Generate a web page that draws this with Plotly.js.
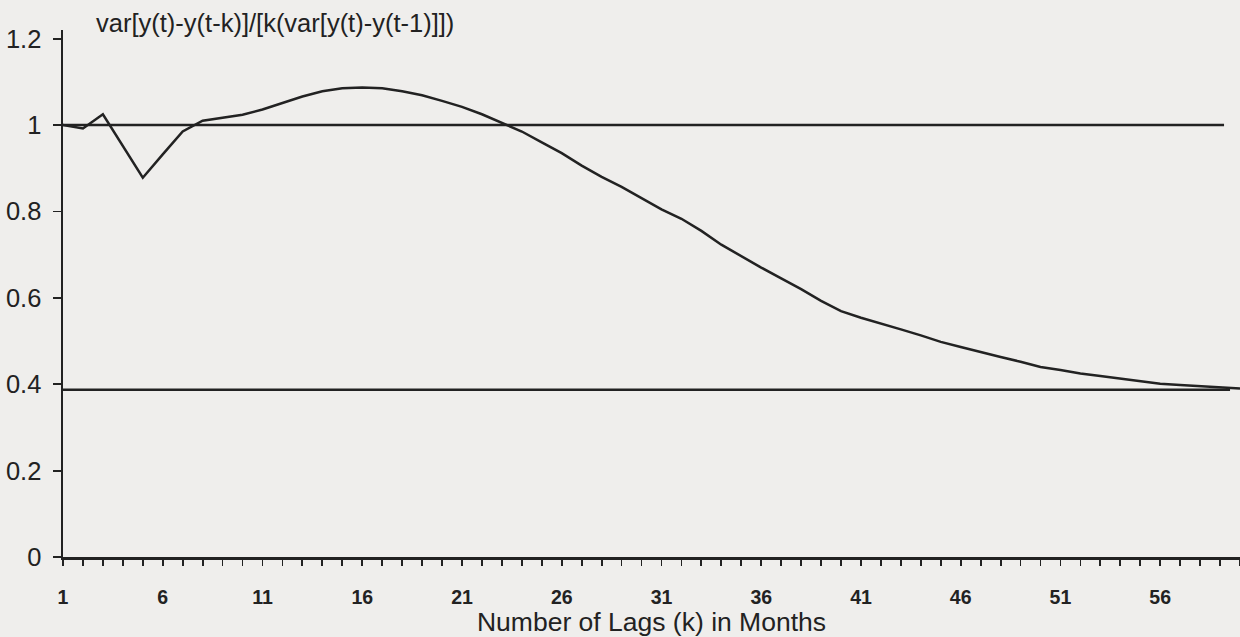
<!DOCTYPE html>
<html>
<head>
<meta charset="utf-8">
<script src="https://cdn.plot.ly/plotly-3.0.1.min.js"></script>
<style>
  html, body { margin: 0; padding: 0; background: #efeeec; }
  #chart { width: 1240px; height: 637px; }
</style>
</head>
<body>
<div id="chart"></div>
<script>
// Lags k (months)
const lags = [1,2,3,4,5,6,7,8,9,10,11,12,13,14,15,16,17,18,19,20,
              21,22,23,24,25,26,27,28,29,30,31,32,33,34,35,36,37,38,39,40,
              41,42,43,44,45,46,47,48,49,50,51,52,53,54,55,56,57,58,59,60];
// Variance ratio var[y(t)-y(t-k)] / [k var[y(t)-y(t-1)]]
const varianceRatio = [1.000,0.992,1.025,0.950,0.878,0.932,0.985,1.010,1.017,1.024,
                       1.036,1.051,1.066,1.078,1.085,1.087,1.085,1.078,1.069,1.056,
                       1.042,1.025,1.005,0.985,0.960,0.935,0.906,0.880,0.857,0.831,
                       0.805,0.783,0.755,0.723,0.696,0.670,0.645,0.620,0.593,0.569,
                       0.554,0.541,0.527,0.513,0.498,0.486,0.474,0.463,0.452,0.440,
                       0.433,0.425,0.419,0.413,0.406,0.401,0.398,0.395,0.392,0.390];
// Horizontal reference lines
const unitLineX = [1, 59.2];
const unitLineY = [1, 1];
const lowerLineX = [1, 59.5];
const lowerLineY = [0.387, 0.387];
// Axis ticks
const yTicks = [0, 0.2, 0.4, 0.6, 0.8, 1, 1.2];
const yTickText = ['0', '0.2', '0.4', '0.6', '0.8', '1', '1.2'];

const ink = '#222222';
const lineStyle = {color: ink, width: 2.5};
const fam = 'Liberation Sans, Arial, sans-serif';

const traces = [
  {x: unitLineX, y: unitLineY, mode: 'lines', line: lineStyle, hoverinfo: 'skip', showlegend: false},
  {x: lowerLineX, y: lowerLineY, mode: 'lines', line: lineStyle, hoverinfo: 'skip', showlegend: false},
  {x: lags, y: varianceRatio, mode: 'lines', line: lineStyle, showlegend: false}
];

const layout = {
  width: 1240, height: 637,
  paper_bgcolor: '#efeeec', plot_bgcolor: '#efeeec',
  margin: {l: 63, r: 0, t: 30, b: 80},
  showlegend: false,
  title: {
    text: 'var[y(t)-y(t-k)]/[k(var[y(t)-y(t-1)]])',
    x: 96/1240, xanchor: 'left', xref: 'container',
    y: 1 - 23/637, yanchor: 'middle', yref: 'container',
    pad: {l: 0, r: 0, t: 0, b: 0},
    font: {family: fam, size: 25.5, color: ink}
  },
  xaxis: {
    range: [1, 60],
    tick0: 1, dtick: 5,
    ticks: 'outside', ticklen: 6, tickwidth: 1.8, tickcolor: ink,
    minor: {dtick: 1, tick0: 1, ticks: 'outside', ticklen: 6, tickwidth: 1.8, tickcolor: ink, showgrid: false},
    showline: true, linecolor: ink, linewidth: 2.5,
    showgrid: false, zeroline: false,
    ticklabelstandoff: 15,
    tickfont: {family: fam, size: 19.5, color: ink, weight: 'bold'},
    title: {
      text: 'Number of Lags (k) in Months',
      font: {family: fam, size: 26.5, color: ink},
      standoff: 2
    }
  },
  yaxis: {
    range: [0, 1.22],
    tickvals: yTicks, ticktext: yTickText,
    ticks: 'outside', ticklen: 8, tickwidth: 1.8, tickcolor: ink,
    showline: true, linecolor: ink, linewidth: 2.5,
    showgrid: false, zeroline: false,
    ticklabelstandoff: 6,
    tickfont: {family: fam, size: 25.5, color: ink}
  }
};

Plotly.newPlot('chart', traces, layout, {displayModeBar: false, staticPlot: true});
</script>
</body>
</html>
